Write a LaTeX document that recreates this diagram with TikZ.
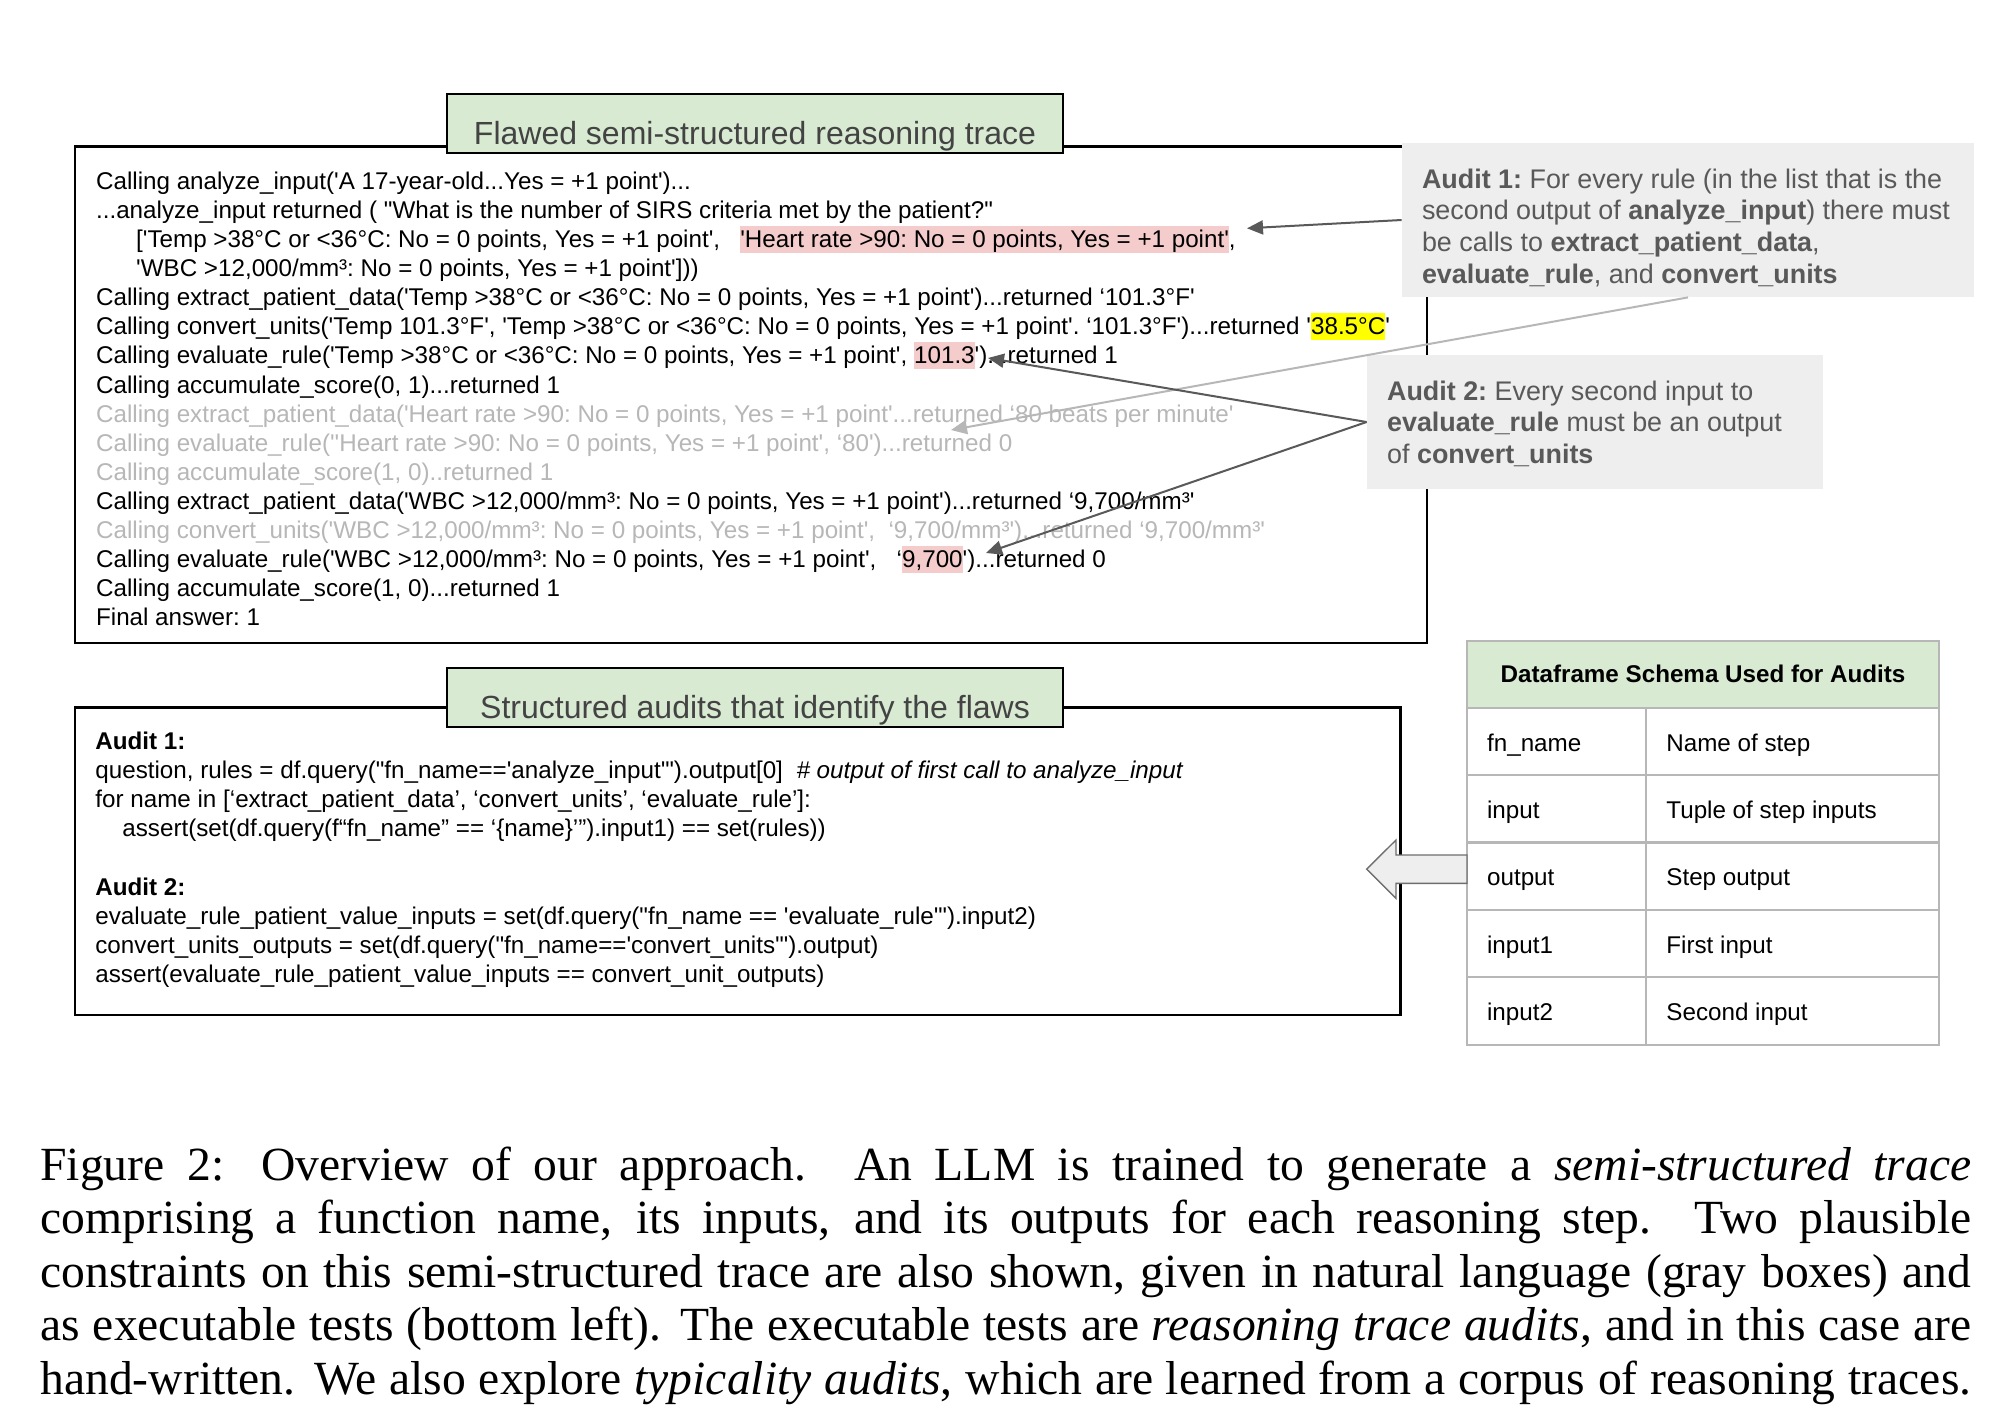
\documentclass[tikz,border=0pt]{standalone}
\usepackage{fontspec}
\newfontfamily\arial{Liberation Sans}
\newfontfamily\capfont{Liberation Serif}
\usetikzlibrary{arrows.meta,fit}
\definecolor{tgreen}{HTML}{D9EAD3}
\definecolor{tpink}{HTML}{F4CCCC}
\definecolor{tyellow}{HTML}{FFFF00}
\definecolor{tlight}{HTML}{B7B7B7}
\definecolor{tdark}{HTML}{595959}
\definecolor{tnote}{HTML}{EEEEEE}
\definecolor{ttitle}{HTML}{434343}
\definecolor{tgrid}{HTML}{B7B7B7}
\definecolor{tarrowline}{HTML}{6E6E6E}
\newcommand\hlbox[2]{{\setlength\fboxsep{0pt}\colorbox{#1}{\rule[-2.5pt]{0pt}{13.5pt}#2}}}
\begin{document}
\frenchspacing
\begin{tikzpicture}[x=0.5pt,y=-0.5pt,
  trace/.style={anchor=base west, inner sep=0pt, font=\arial\fontsize{12.1pt}{14.5pt}\selectfont},
  faded/.style={trace, text=tlight},
  frame/.style={draw=black, line width=1.1pt, inner sep=0pt},
  titlebox/.style={frame, fill=tgreen},
  titletext/.style={anchor=base, inner sep=0pt, text=ttitle, font=\arial\fontsize{16pt}{19pt}\selectfont},
  notebox/.style={fill=tnote, inner sep=0pt},
  note/.style={anchor=base west, inner sep=0pt, text=tdark, font=\arial\fontsize{13.45pt}{16pt}\selectfont},
  cell/.style={draw=tgrid, line width=1.1pt, inner sep=0pt},
  celltext/.style={anchor=base west, inner sep=0pt, font=\arial\fontsize{12.1pt}{14.5pt}\selectfont},
  darkarrow/.style={draw=tdark, line width=1pt, -{Triangle[length=8pt,width=7pt]}},
  lightarrow/.style={draw=tlight, line width=1pt, -{Triangle[length=8pt,width=7pt]}},
  blockarrow/.style={fill=tnote, draw=tarrowline, line width=0.7pt, line join=miter},
]
\path[fill=white] (0,0) rectangle (2010,1414);
\useasboundingbox (0,0) rectangle (2010,1414);

% ---------- frames ----------
\node[frame, fit={(75,146.5) (1427,643.3)}] (tbox) {};
\node[frame, fit={(75,707.5) (1400.5,1015)}] (abox) {};
\node[titlebox, fit={(447,94.3) (1063,153.3)}] (ttl1) {};
\node[titlebox, fit={(447,668.3) (1063,726.7)}] (ttl2) {};
\node[titletext] (ttl1t) at (755,144) {Flawed semi-structured reasoning trace};
\node[titletext] (ttl2t) at (755,718) {Structured audits that identify the flaws};

% ---------- trace ----------
\node[trace] (t1) at (95.7,189.3) {Calling analyze\_input('A 17-year-old...Yes = +1 point')...};
\node[trace] (t2) at (95.7,218.4) {...analyze\_input returned ( "What is the number of SIRS criteria met by the patient?"};
\node[trace] (t3) at (135.8,247.5) {['Temp >38°C or <36°C: No = 0 points, Yes = +1 point',~~~\hlbox{tpink}{'Heart rate >90: No = 0 points, Yes = +1 point'},};
\node[trace] (t4) at (135.8,276.6) {'WBC >12,000/mm³: No = 0 points, Yes = +1 point']))};
\node[trace] (t5) at (95.7,305.7) {Calling extract\_patient\_data('Temp >38°C or <36°C: No = 0 points, Yes = +1 point')...returned ‘101.3°F'};
\node[trace] (t6) at (95.7,334.8) {Calling convert\_units('Temp 101.3°F', 'Temp >38°C or <36°C: No = 0 points, Yes = +1 point'. ‘101.3°F')...returned '\hlbox{tyellow}{38.5°C}'};
\node[trace] (t7) at (95.7,363.9) {Calling evaluate\_rule('Temp >38°C or <36°C: No = 0 points, Yes = +1 point', \hlbox{tpink}{101.3}')...returned 1};
\node[trace] (t8) at (95.7,393.0) {Calling accumulate\_score(0, 1)...returned 1};
\node[faded] (t9) at (95.7,422.1) {Calling extract\_patient\_data('Heart rate >90: No = 0 points, Yes = +1 point'...returned ‘80 beats per minute'};
\node[faded] (t10) at (95.7,451.2) {Calling evaluate\_rule(''Heart rate >90: No = 0 points, Yes = +1 point', ‘80')...returned 0};
\node[faded] (t11) at (95.7,480.3) {Calling accumulate\_score(1, 0)..returned 1};
\node[trace] (t12) at (95.7,509.4) {Calling extract\_patient\_data('WBC >12,000/mm³: No = 0 points, Yes = +1 point')...returned ‘9,700/mm³'};
\node[faded] (t13) at (95.7,538.5) {Calling convert\_units('WBC >12,000/mm³: No = 0 points, Yes = +1 point',~~‘9,700/mm³')...returned ‘9,700/mm³'};
\node[trace] (t14) at (95.7,567.6) {Calling evaluate\_rule('WBC >12,000/mm³: No = 0 points, Yes = +1 point',~~~‘\hlbox{tpink}{9,700}')...returned 0};
\node[trace] (t15) at (95.7,596.7) {Calling accumulate\_score(1, 0)...returned 1};
\node[trace] (t16) at (95.7,625.8) {Final answer: 1};

% ---------- audits code ----------
\node[trace] (a1) at (95,749) {\textbf{Audit 1:}};
\node[trace] (a2) at (95,778.2) {question, rules = df.query("fn\_name=='analyze\_input'").output[0]~~\textit{\# output of first call to analyze\_input}};
\node[trace] (a3) at (95,807.4) {for name in [‘extract\_patient\_data’, ‘convert\_units’, ‘evaluate\_rule’]:};
\node[trace] (a4) at (122,836.6) {assert(set(df.query(f“fn\_name” == ‘\{name\}’”).input1) == set(rules))};
\node[trace] (a5) at (95,895) {\textbf{Audit 2:}};
\node[trace] (a6) at (95,924.2) {evaluate\_rule\_patient\_value\_inputs = set(df.query("fn\_name == 'evaluate\_rule'").input2)};
\node[trace] (a7) at (95,953.4) {convert\_units\_outputs = set(df.query("fn\_name=='convert\_units'").output)};
\node[trace] (a8) at (95,982.6) {assert(evaluate\_rule\_patient\_value\_inputs == convert\_unit\_outputs)};

% ---------- gray notes ----------
\node[notebox, fit={(1402,143) (1974,297)}] (aud1) {};
\node[notebox, fit={(1367,355) (1823,489)}] (aud2) {};
\node[note] (n11) at (1421.6,188) {\textbf{Audit 1:} For every rule (in the list that is the};
\node[note] (n12) at (1421.6,219.8) {second output of \textbf{analyze\_input}) there must};
\node[note] (n13) at (1421.6,251.6) {be calls to \textbf{extract\_patient\_data},};
\node[note] (n14) at (1421.6,283.4) {\textbf{evaluate\_rule}, and \textbf{convert\_units}};
\node[note] (n21) at (1386.7,400) {\textbf{Audit 2:} Every second input to};
\node[note] (n22) at (1386.7,431.7) {\textbf{evaluate\_rule} must be an output};
\node[note] (n23) at (1386.7,463.4) {of \textbf{convert\_units}};

% ---------- connectors ----------
\coordinate (tipH) at (1247,228.3);
\coordinate (tipG) at (951,430);
\coordinate (tipT) at (988,358);
\coordinate (tipW) at (986,553);
\draw[darkarrow] (aud1.west) -- (tipH);
\draw[lightarrow] (aud1.south) -- (tipG);
\draw[darkarrow] (aud2.west) -- (tipT);
\draw[darkarrow] (aud2.west) -- (tipW);

% ---------- schema table ----------
\node[cell, fill=tgreen, fit={(1467,640.7) (1939,707.7)}] (hdr) {};
\node[anchor=base, inner sep=0pt, font=\arial\bfseries\fontsize{12.1pt}{14.5pt}\selectfont] (hdrt) at (1703,682.7) {Dataframe Schema Used for Audits};
\foreach \i/\t in {1/707.7, 2/775.1, 3/842.5, 4/909.9, 5/977.3} {
  \node[cell, fit={(1467,\t) (1646,\t+67.4)}] (k\i) {};
  \node[cell, fit={(1646,\t) (1939,\t+67.4)}] (v\i) {};
}
\node[celltext] (kt1) at (1486.7,751) {fn\_name};
\node[celltext] (vt1) at (1666,751) {Name of step};
\node[celltext] (kt2) at (1486.7,818.4) {input};
\node[celltext] (vt2) at (1666,818.4) {Tuple of step inputs};
\node[celltext] (kt3) at (1486.7,885.8) {output};
\node[celltext] (vt3) at (1666,885.8) {Step output};
\node[celltext] (kt4) at (1486.7,953.2) {input1};
\node[celltext] (vt4) at (1666,953.2) {First input};
\node[celltext] (kt5) at (1486.7,1020.6) {input2};
\node[celltext] (vt5) at (1666,1020.6) {Second input};

% ---------- block arrow ----------
\draw[blockarrow] (1467,855) -- (1396,855) -- (1396,840) -- (1366.7,869.2) -- (1396,898.3) -- (1396,883.3) -- (1467,883.3) -- cycle;

% ---------- caption ----------
\node[anchor=base west, inner sep=0pt] (cap) at (40,1180) {\parbox[t]{965.5pt}{\capfont\fontsize{23.8pt}{26.75pt}\selectfont\nonfrenchspacing\parfillskip=0pt\relax\noindent
Figure 2: Overview of our approach. An LLM is trained to generate a \textit{semi-structured trace}\linebreak
comprising a function name, its inputs, and its outputs for each reasoning step. Two plausible\linebreak
constraints on this semi-structured trace are also shown, given in natural language (gray boxes) and\linebreak
as executable tests (bottom left). The executable tests are \textit{reasoning trace audits}, and in this case are\linebreak
hand-written. We also explore \textit{typicality audits}, which are learned from a corpus of reasoning traces.}};
\end{tikzpicture}
\end{document}
